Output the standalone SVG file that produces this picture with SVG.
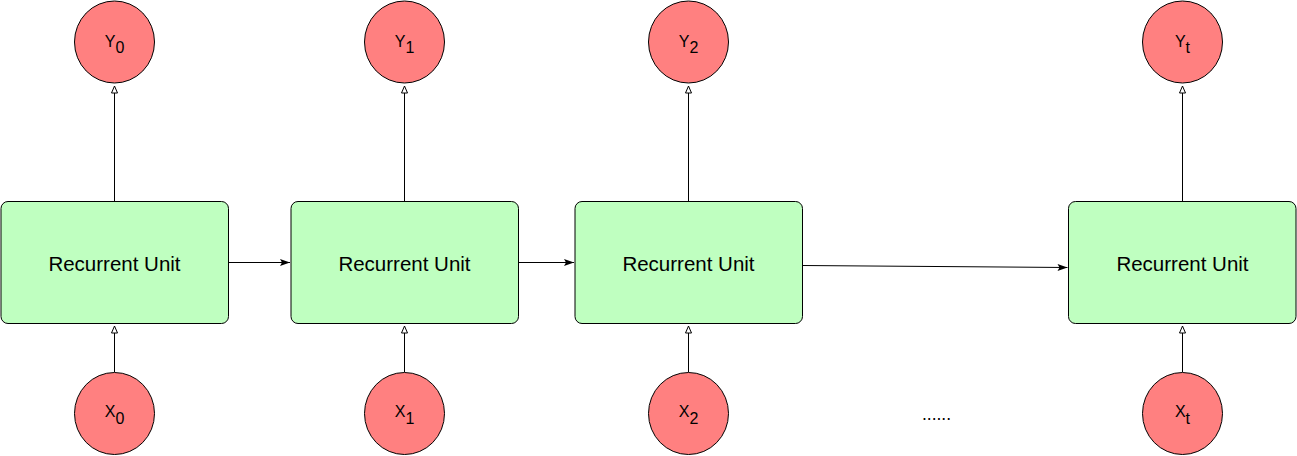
<svg xmlns="http://www.w3.org/2000/svg" width="1297" height="456" viewBox="0 0 1297 456">
<style>
.c{fill:#FF8080;stroke:#000;stroke-width:1}
.b{fill:#BFFFC0;stroke:#000;stroke-width:1}
.t{font-family:"Liberation Sans",Arial,sans-serif;fill:#000;text-anchor:middle}
.ru{font-size:20.5px}
.lb{font-size:16px}
.e{stroke:#000;stroke-width:1;fill:none}
</style>
<defs>
<marker id="open" markerWidth="8" markerHeight="10" refX="7.5" refY="4" orient="auto" markerUnits="userSpaceOnUse" viewBox="0 0 8 8">
<path d="M0.5,1 L7.5,4 L0.5,7 Z" fill="#fff" stroke="#000" stroke-width="1"/>
</marker>
<marker id="fill" markerWidth="10" markerHeight="8" refX="10" refY="4" orient="auto" markerUnits="userSpaceOnUse" viewBox="0 0 10 8">
<path d="M0,0.5 L10,4 L0,7.5 L2,4 Z" fill="#000"/>
</marker>
</defs>
<g id="connectors">
<line class="e" x1="114.5" y1="201.5" x2="114.5" y2="86" marker-end="url(#open)"/>
<line class="e" x1="404.5" y1="201.5" x2="404.5" y2="86" marker-end="url(#open)"/>
<line class="e" x1="688.5" y1="201.5" x2="688.5" y2="86" marker-end="url(#open)"/>
<line class="e" x1="1182.5" y1="201.5" x2="1182.5" y2="86" marker-end="url(#open)"/>
<line class="e" x1="114.5" y1="372" x2="114.5" y2="326" marker-end="url(#open)"/>
<line class="e" x1="404.5" y1="372" x2="404.5" y2="326" marker-end="url(#open)"/>
<line class="e" x1="688.5" y1="372" x2="688.5" y2="326" marker-end="url(#open)"/>
<line class="e" x1="1182.5" y1="372" x2="1182.5" y2="326" marker-end="url(#open)"/>
<line class="e" x1="228.5" y1="262.5" x2="290" y2="262.5" marker-end="url(#fill)"/>
<line class="e" x1="518.5" y1="262.5" x2="574" y2="262.5" marker-end="url(#fill)"/>
<line class="e" x1="802.5" y1="265.5" x2="1067.5" y2="267.5" marker-end="url(#fill)"/>
</g>
<g id="y0"><ellipse class="c" cx="114.5" cy="42" rx="40" ry="41"/><text class="t lb" x="114.5" y="47">Y<tspan dy="6">0</tspan></text></g>
<g id="y1"><ellipse class="c" cx="404.5" cy="42" rx="40" ry="41"/><text class="t lb" x="404.5" y="47">Y<tspan dy="6">1</tspan></text></g>
<g id="y2"><ellipse class="c" cx="688.5" cy="42" rx="40" ry="41"/><text class="t lb" x="688.5" y="47">Y<tspan dy="6">2</tspan></text></g>
<g id="yt"><ellipse class="c" cx="1182.5" cy="42" rx="40" ry="41"/><text class="t lb" x="1182.5" y="47">Y<tspan dy="6">t</tspan></text></g>
<g id="ru0"><rect class="b" x="1" y="201.5" width="227.5" height="122" rx="7"/><text class="t ru" x="114.5" y="271">Recurrent Unit</text></g>
<g id="ru1"><rect class="b" x="291" y="201.5" width="227.5" height="122" rx="7"/><text class="t ru" x="404.5" y="271">Recurrent Unit</text></g>
<g id="ru2"><rect class="b" x="575" y="201.5" width="227.5" height="122" rx="7"/><text class="t ru" x="688.5" y="271">Recurrent Unit</text></g>
<g id="rut"><rect class="b" x="1068.5" y="201.5" width="227.5" height="122" rx="7"/><text class="t ru" x="1182.5" y="271">Recurrent Unit</text></g>
<g id="x0"><ellipse class="c" cx="114.5" cy="413.5" rx="40" ry="41"/><text class="t lb" x="114.5" y="416.5">X<tspan dy="7">0</tspan></text></g>
<g id="x1"><ellipse class="c" cx="404.5" cy="413.5" rx="40" ry="41"/><text class="t lb" x="404.5" y="416.5">X<tspan dy="7">1</tspan></text></g>
<g id="x2"><ellipse class="c" cx="688.5" cy="413.5" rx="40" ry="41"/><text class="t lb" x="688.5" y="416.5">X<tspan dy="7">2</tspan></text></g>
<g id="xt"><ellipse class="c" cx="1182.5" cy="413.5" rx="40" ry="41"/><text class="t lb" x="1182.5" y="416.5">X<tspan dy="7">t</tspan></text></g>
<g id="dots"><text class="t" style="font-size:17.5px" x="936.5" y="420">......</text></g>
</svg>
